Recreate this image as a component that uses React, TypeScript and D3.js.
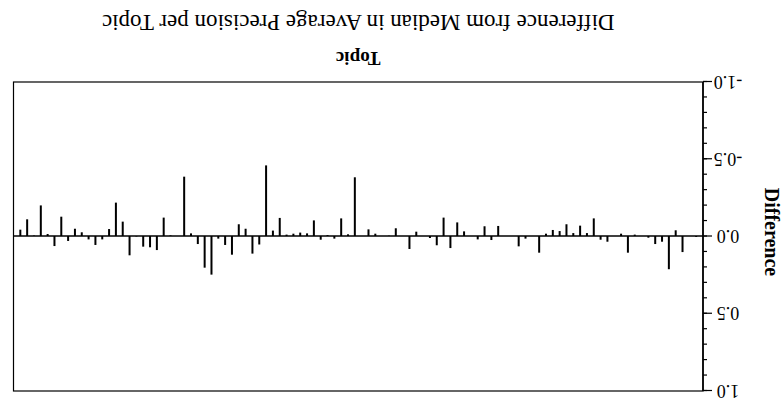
import React, { useEffect, useRef } from 'react';
import * as d3 from 'd3';

// difference from median AP, topics 1..100
const topics: number[] = d3.range(1, 101);
const diffs: number[] = [
  0.006, 0, 0.104, -0.037, 0.215, 0.037, 0.052, 0.011, 0, -0.009,
  0.108, -0.015, 0, 0.037, 0.024, -0.114, -0.019, -0.067, -0.019, -0.076,
  -0.032, -0.039, -0.015, 0.108, 0, 0.017, 0.067, 0, 0, -0.065,
  0.026, -0.063, 0.022, 0, -0.03, -0.088, 0.078, -0.119, 0.06, 0.013,
  0, -0.028, 0.084, 0, -0.05, -0.002, 0, -0.015, -0.043, 0,
  -0.38, -0.011, -0.114, 0.017, -0.006, 0.024, -0.101, -0.017, -0.022, -0.015,
  -0.009, -0.117, -0.035, -0.457, 0.055, 0.114, -0.047, -0.076, 0.121, 0.058,
  0.017, 0.25, 0.205, 0.052, -0.017, -0.384, 0, -0.004, -0.119, 0.091,
  0.073, 0.069, 0.003, 0.125, -0.093, -0.216, -0.045, 0.022, 0.058, 0.022,
  -0.024, -0.047, 0.032, -0.125, 0.065, -0.013, -0.198, -0.003, -0.108, -0.041,
];
const majorTicks: number[] = [-1, -0.5, 0, 0.5, 1];
const tickLabels: string[] = ['-1.0', '-0.5', '0.0', '0.5', '1.0'];
const minorTicks: number[] = d3.range(-10, 11).map(d => d / 10);

const title = 'Difference from Median in Average Precision per Topic';
const xLabel = 'Topic';
const yLabel = 'Difference';

const W = 782;
const H = 409;
const serif = '"Liberation Serif", "Times New Roman", serif';

export default function App() {
  const svgRef = useRef<SVGSVGElement>(null);

  useEffect(() => {
    const svg = d3.select(svgRef.current);
    svg.selectAll('*').remove();

    // the whole figure is shown turned upside down
    const g = svg.append('g').attr('transform', `rotate(180 ${W / 2} ${H / 2})`);

    const left = 79, right = 768.5, top = 18, bottom = 327;

    const x = d3.scaleLinear().domain([0, 101]).range([left, right]);
    const y = d3.scaleLinear().domain([-1, 1]).range([bottom + 0.5, top + 0.5]);

    // frame
    g.append('rect')
      .attr('x', left)
      .attr('y', top)
      .attr('width', right - left)
      .attr('height', bottom - top)
      .attr('fill', 'none')
      .attr('stroke', '#000')
      .attr('stroke-width', 1.2);

    // zero line
    g.append('line')
      .attr('x1', left)
      .attr('x2', right)
      .attr('y1', y(0))
      .attr('y2', y(0))
      .attr('stroke', '#000')
      .attr('stroke-width', 1.3);

    // bars
    g.selectAll('.bar')
      .data(topics)
      .enter()
      .append('rect')
      .attr('class', 'bar')
      .attr('x', d => x(d) - 1)
      .attr('width', 2)
      .attr('y', (_, i) => Math.min(y(0), y(diffs[i])))
      .attr('height', (_, i) => Math.abs(y(0) - y(diffs[i])))
      .attr('fill', '#000');

    // y axis
    g.append('line')
      .attr('x1', left)
      .attr('x2', left)
      .attr('y1', top)
      .attr('y2', bottom)
      .attr('stroke', '#000')
      .attr('stroke-width', 1.6);

    g.selectAll('.minor')
      .data(minorTicks)
      .enter()
      .append('line')
      .attr('x1', left)
      .attr('x2', left - 4)
      .attr('y1', d => y(d))
      .attr('y2', d => y(d))
      .attr('stroke', '#000')
      .attr('stroke-width', 1.2);

    g.selectAll('.major')
      .data(majorTicks)
      .enter()
      .append('line')
      .attr('x1', left)
      .attr('x2', left - 9)
      .attr('y1', d => y(d))
      .attr('y2', d => y(d))
      .attr('stroke', '#000')
      .attr('stroke-width', 1.2);

    g.selectAll('.tlabel')
      .data(majorTicks)
      .enter()
      .append('text')
      .attr('x', 54)
      .attr('y', d => y(d))
      .attr('text-anchor', 'middle')
      .attr('dominant-baseline', 'central')
      .style('font-family', serif)
      .style('font-size', '18px')
      .text((_, i) => tickLabels[i]);

    // axis titles
    g.append('text')
      .attr('transform', `translate(17, 177) rotate(-90)`)
      .attr('text-anchor', 'middle')
      .style('font-family', serif)
      .style('font-size', '20px')
      .style('font-weight', 'bold')
      .text(yLabel);

    g.append('text')
      .attr('x', (left + right) / 2)
      .attr('y', 357)
      .attr('text-anchor', 'middle')
      .style('font-family', serif)
      .style('font-size', '19px')
      .style('font-weight', 'bold')
      .text(xLabel);

    g.append('text')
      .attr('x', (left + right) / 2)
      .attr('y', 394)
      .attr('text-anchor', 'middle')
      .style('font-family', serif)
      .style('font-size', '23px')
      .text(title);
  }, []);

  return (
    <svg
      ref={svgRef}
      width={W}
      height={H}
      style={{ position: 'absolute', left: 0, top: 0, background: '#fff' }}
    />
  );
}
